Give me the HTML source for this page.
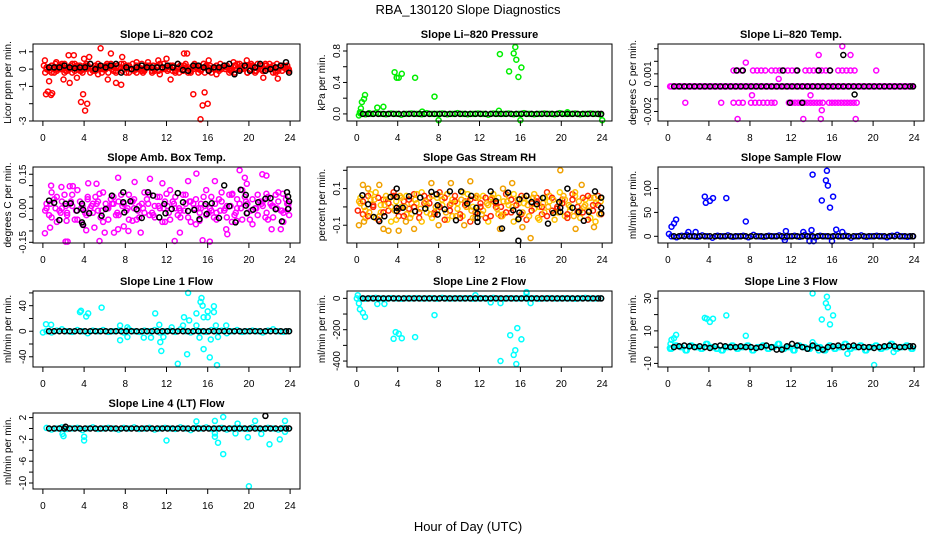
<!DOCTYPE html>
<html><head><meta charset="utf-8">
<style>
html,body{margin:0;padding:0;background:#fff;}
svg{display:block;font-family:"Liberation Sans",Arial,sans-serif;}
</style></head>
<body>
<svg id="chart" width="936" height="540" viewBox="0 0 936 540" xmlns="http://www.w3.org/2000/svg">
<rect x="0" y="0" width="936" height="540" fill="#fff"/>
<text x="468" y="14" text-anchor="middle" font-size="13">RBA_130120  Slope Diagnostics</text>
<text x="468" y="531" text-anchor="middle" font-size="13">Hour of Day (UTC)</text>
</svg>
<script>
const xTicks=[0,4,8,12,16,20,24];
const blackHours=[0.6,1.1,1.6,2.1,2.6,3.1,3.6,4.1,4.6,5.1,5.6,6.1,6.6,7.1,7.6,8.1,8.6,9.1,9.6,10.1,10.6,11.1,11.6,12.1,12.6,13.1,13.6,14.1,14.6,15.1,15.6,16.1,16.6,17.1,17.6,18.1,18.6,19.1,19.6,20.1,20.6,21.1,21.6,22.1,22.6,23.1,23.6,23.9];
const colorHours=[0.35,0.85,1.35,1.85,2.35,2.85,3.35,3.85,4.35,4.85,5.35,5.85,6.35,6.85,7.35,7.85,8.35,8.85,9.35,9.85,10.35,10.85,11.35,11.85,12.35,12.85,13.35,13.85,14.35,14.85,15.35,15.85,16.35,16.85,17.35,17.85,18.35,18.85,19.35,19.85,20.35,20.85,21.35,21.85,22.35,22.85,23.35,23.85];
const hoursC=[0.1,0.6,1.1,1.6,2.1,2.6,3.1,3.6,4.1,4.6,5.1,5.6,6.1,6.6,7.1,7.6,8.1,8.6,9.1,9.6,10.1,10.6,11.1,11.6,12.1,12.6,13.1,13.6,14.1,14.6,15.1,15.6,16.1,16.6,17.1,17.6,18.1,18.6,19.1,19.6,20.1,20.6,21.1,21.6,22.1,22.6,23.1,23.6];
const hoursD=[0.22,0.72,1.22,1.72,2.22,2.72,3.22,3.72,4.22,4.72,5.22,5.72,6.22,6.72,7.22,7.72,8.22,8.72,9.22,9.72,10.22,10.72,11.22,11.72,12.22,12.72,13.22,13.72,14.22,14.72,15.22,15.72,16.22,16.72,17.22,17.72,18.22,18.72,19.22,19.72,20.22,20.72,21.22,21.72,22.22,22.72,23.22,23.72];
const blackZero=[0,0,0,0,0,0,0,0,0,0,0,0,0,0,0,0,0,0,0,0,0,0,0,0,0,0,0,0,0,0,0,0,0,0,0,0,0,0,0,0,0,0,0,0,0,0,0,0];

// CO2
const co2Ticks=[-3,-2,-1,0,1];
const co2TickLabels=["-3","","-1","0","1"];
const co2Black=[0.1,0.1,0.1,0.2,0.1,0.05,0.1,0.1,0.3,0.0,0.2,0.1,0.2,0.3,-0.2,0.1,0.0,0.1,0.2,0.1,0.1,0.1,0.1,0.2,0.1,0.3,-0.05,-0.1,0.2,0.2,0.1,-0.1,0.1,0.1,0.2,0.3,-0.3,-0.1,0.2,-0.1,0.1,0.3,-0.1,0.0,0.1,0.2,0.4,-0.2];
const co2A=[0.0,0.2,-0.1,0.3,0.1,-0.2,0.2,0.0,0.1,-0.1,0.3,0.0,-0.2,0.2,0.1,0.0,0.2,-0.1,0.1,0.0,0.2,-0.1,0.3,0.0,0.1,-0.2,0.2,0.1,-0.1,0.2,0.0,0.1,-0.2,0.2,0.0,0.1,-0.1,0.3,0.0,-0.2,0.2,0.1,-0.1,0.0,0.2,-0.1,0.1,0.0];
const co2B=[-0.1,0.0,0.2,-0.2,0.0,0.3,-0.1,0.2,-0.2,0.2,0.0,0.2,0.1,-0.1,0.3,-0.2,0.0,0.2,-0.1,0.2,-0.2,0.1,0.0,0.2,-0.1,0.1,0.0,-0.2,0.2,0.0,0.3,-0.1,0.1,0.0,0.2,-0.2,0.2,0.0,0.1,0.2,-0.1,0.0,0.2,0.1,-0.2,0.2,0.0,-0.1];
const co2C=[0.1,-0.2,0.0,0.2,-0.1,0.3,0.0,-0.2,0.2,0.1,-0.3,0.0,0.2,-0.1,0.1,0.3,-0.2,0.0,0.1,-0.1,0.2,0.0,-0.3,0.1,0.2,-0.1,0.0,0.3,-0.2,0.1,-0.1,0.2,0.0,-0.3,0.1,0.2,-0.1,0.0,0.2,-0.2,0.1,0.3,-0.1,0.0,-0.2,0.1,0.2,0.0];
const co2D=[0.2,0.1,-0.2,0.0,0.3,0.1,-0.1,0.2,0.0,0.3,-0.1,0.1,0.0,0.3,-0.2,0.1,0.2,0.0,-0.2,0.3,0.1,-0.1,0.2,0.0,-0.1,0.2,0.3,-0.1,0.1,0.0,-0.2,0.3,0.1,0.0,-0.1,0.2,0.0,-0.2,0.3,0.1,0.0,-0.2,0.2,0.3,0.0,-0.1,0.2,0.1];
const co2E=[-0.2,0.1,0.3,0.0,-0.1,0.2,0.1,-0.1,0.3,0.0,0.1,-0.2,0.3,0.0,0.2,-0.1,0.1,0.3,0.0,-0.2,0.1,0.2,-0.1,0.3,0.0,0.1,-0.2,0.2,0.0,0.3,0.1,-0.2,0.2,0.1,0.3,0.0,-0.1,0.2,0.0,0.1,0.3,-0.1,0.0,0.2,0.1,0.3,-0.1,0.2];
const co2OutX=[0.2,0.3,0.5,0.6,0.8,0.9,2.0,2.5,2.6,3.0,3.3,3.7,3.9,4.0,4.1,4.3,4.5,5.6,6.6,6.3,7.1,7.6,7.7,12.0,12.4,13.7,14.0,14.6,15.3,15.5,15.7,16.0,16.1,19.8,21.4,22.8,1.3,9.1,10.2,18.5,11.2,22.0];
const co2OutY=[0.5,-1.45,-1.3,-0.7,-1.5,-1.4,-0.6,0.8,-0.8,0.8,-0.5,-1.9,-1.45,0.6,-2.4,-2.0,0.7,1.2,0.9,-0.6,-0.8,-0.9,0.7,0.6,-0.6,0.9,0.9,-1.45,-2.9,-2.1,-1.35,-2.0,0.5,0.5,-0.5,-0.55,0.4,0.4,0.4,0.4,0.5,0.3];

// Pressure
const presTicks=[0,0.2,0.4,0.6,0.8];
const presTickLabels=["0.0","","0.4","","0.8"];
const presBand=[0.005,-0.005,0,0.01,0,-0.005,0.005,0,-0.01,0,0.005,0,-0.005,0.01,0,0,0.005,-0.005,0,0.01,0,-0.005,0,0.005,0,-0.01,0.005,0,0,0.005,-0.005,0,0.01,0,-0.005,0,0.005,0,-0.005,0.01,0,0,0.005,-0.005,0,0.005,0,-0.01];
const presOutX=[0.2,0.3,0.4,0.5,0.7,0.8,1.2,2.0,2.6,3.7,3.9,4.1,4.4,5.7,6.4,7.6,8.0,13.9,14.0,14.9,15.35,15.5,15.6,15.8,16.1,16.0,20.6,24.0];
const presOutY=[-0.02,0.02,0.07,0.15,0.19,0.24,0.01,0.08,0.09,0.53,0.46,0.46,0.51,0.46,0.03,0.22,-0.08,0.04,0.76,0.54,0.77,0.85,0.69,0.47,0.59,-0.08,0.02,-0.08];

// Li-820 Temp
const tempTicks=[-0.002,-0.001,0,0.001,0.002,0.003];
const tempTickLabels=["-0.002","","","0.001","",""];
const tempOutX=[6.4,6.8,7.2,8.3,8.7,9.1,9.5,10.1,10.5,10.9,11.3,11.7,12.1,12.5,13.4,13.8,14.2,14.6,15.0,15.4,15.8,16.6,17.0,17.4,17.8,18.2,20.3,
1.7,5.2,6.4,6.9,7.3,8.1,8.5,8.9,9.3,9.7,10.1,10.4,11.8,12.1,12.4,12.7,13.0,13.3,13.6,13.9,14.2,14.5,14.8,15.1,15.7,16.0,16.3,16.6,16.9,17.2,17.5,17.8,18.1,18.4,
14.7,17.8,17.0,7.6,10.8,8.2,13.9,15.0,6.8,13.2,14.9,18.3];
const tempOutY=[0.00127,0.00127,0.00127,0.00127,0.00127,0.00127,0.00127,0.00127,0.00127,0.00127,0.00127,0.00127,0.00127,0.00127,0.00127,0.00127,0.00127,0.00127,0.00127,0.00127,0.00127,0.00127,0.00127,0.00127,0.00127,0.00127,0.00127,
-0.0013,-0.0013,-0.0013,-0.0013,-0.0013,-0.0013,-0.0013,-0.0013,-0.0013,-0.0013,-0.0013,-0.0013,-0.0013,-0.0013,-0.0013,-0.0013,-0.0013,-0.0013,-0.0013,-0.0013,-0.0013,-0.0013,-0.0013,-0.0013,-0.0013,-0.0013,-0.0013,-0.0013,-0.0013,-0.0013,-0.0013,-0.0013,-0.0013,-0.0013,
0.0025,0.0025,0.0032,0.0019,0.0006,-0.0007,-0.0007,-0.0019,-0.0026,-0.0026,-0.0026,-0.0026];
const tempBlackX=[6.7,7.3,11.2,12.6,14.7,15.8,11.9,13.1,17.1,18.2];
const tempBlackY=[0.00127,0.00127,0.00127,0.00127,0.00127,0.00127,-0.0013,-0.0013,0.0025,-0.00065];

// Amb box temp
const ambTicks=[-0.15,-0.1,-0.05,0,0.05,0.1,0.15];
const ambTickLabels=["-0.15","","","0.00","","","0.15"];
const ambA=[0.02,-0.04,0.05,0.0,-0.03,0.06,-0.05,0.01,0.04,-0.02,0.03,-0.06,0.0,0.05,-0.03,0.02,-0.05,0.04,0.01,-0.02,0.06,-0.04,0.0,0.03,-0.05,0.05,-0.01,0.02,-0.06,0.04,0.0,-0.03,0.05,-0.02,0.03,-0.04,0.06,0.0,-0.05,0.02,0.04,-0.03,0.01,0.05,-0.04,0.03,-0.02,0.0];
const ambB=[-0.03,0.04,-0.01,0.06,0.02,-0.05,0.03,-0.02,0.0,0.05,-0.04,0.02,0.04,-0.03,0.06,-0.01,0.03,-0.05,0.02,0.04,-0.02,0.05,-0.06,0.01,0.03,-0.03,0.06,-0.04,0.02,0.0,0.05,-0.02,-0.04,0.04,-0.01,0.06,-0.03,0.02,0.05,-0.05,0.0,0.03,-0.04,0.02,0.06,-0.01,0.04,-0.03];
const ambC=[0.0,0.07,-0.06,0.03,-0.02,0.01,0.08,-0.07,0.05,0.02,-0.01,0.07,-0.05,0.02,0.03,-0.08,0.06,0.0,-0.04,0.07,-0.03,0.01,0.05,-0.06,0.08,0.0,-0.04,0.06,0.03,-0.07,0.02,0.08,-0.01,-0.05,0.07,0.01,-0.06,0.04,0.08,-0.02,-0.07,0.06,0.03,-0.05,0.01,0.07,-0.06,0.02];
const ambD=[-0.01,0.02,0.0,-0.02,0.01,0.03,-0.01,0.0,-0.03,0.01,0.02,-0.01,0.0,0.02,-0.02,0.01,0.0,0.03,-0.01,0.0,0.02,-0.03,0.01,0.0,-0.02,0.02,0.0,-0.01,0.03,0.0,-0.02,0.01,0.0,0.02,-0.01,0.0,0.01,-0.02,0.0,0.03,-0.01,0.0,0.02,-0.02,0.01,0.0,-0.01,0.02];
const ambOutX=[0.2,0.7,0.8,1.8,2.2,2.4,2.6,2.9,4.4,4.2,5.2,5.0,5.5,6.0,6.9,7.3,7.3,8.3,8.9,9.5,10.4,11.6,12.8,13.3,14.1,14.9,15.5,16.2,16.7,17.8,17.9,19.1,19.6,21.3,21.7,22.2,23.1,19.8,18.8,15.2,8.7,2.3,12.0,18.4,5.5,21.7,23.3];
const ambOutY=[-0.11,-0.085,0.10,0.094,-0.147,-0.147,0.097,0.098,0.11,-0.097,0.108,-0.085,-0.144,-0.107,-0.107,0.135,-0.092,-0.1,0.116,-0.107,0.13,0.11,-0.144,-0.107,0.12,0.153,-0.141,-0.147,0.12,-0.092,-0.114,0.168,0.135,0.15,0.144,-0.092,-0.092,0.108,-0.055,-0.055,-0.055,-0.055,0.064,0.064,0.064,0.064,0.064];
const ambBlackX=[0.6,1.1,1.6,2.2,2.7,3.3,3.8,3.8,3.9,3.9,4.5,5.7,6.1,6.7,7.8,7.8,7.9,8.5,9.1,9.6,10.2,10.7,11.3,11.8,11.9,12.5,13.1,13.6,14.1,14.7,15.2,15.8,15.9,16.4,17.1,17.6,18.1,18.7,19.2,19.7,19.7,19.8,20.4,20.9,21.6,22.1,22.6,23.2,23.7,23.8,23.9,23.8];
const ambBlackY=[0.034,0.024,-0.052,0.02,0.022,-0.01,0.02,-0.062,-0.073,-0.006,-0.022,-0.033,-0.003,0.056,0.027,0.071,-0.018,0.031,-0.004,-0.043,0.071,0.056,-0.04,0.019,-0.022,-0.003,0.067,0.027,-0.012,-0.007,-0.048,0.019,-0.025,0.022,-0.043,0.101,0.009,-0.062,0.082,0.059,0.012,-0.022,-0.006,0.027,0.042,0.045,-0.004,-0.058,0.071,0.052,0.031,-0.003];

// Gas stream RH
const rhTicks=[-0.1,0,0.1,0.2];
const rhTickLabels=["-0.1","","0.1",""];
const rhA=[0.05,-0.02,0.07,-0.06,0.01,0.04,-0.08,0.03,0.0,0.06,-0.04,0.02,0.08,-0.03,-0.06,0.05,0.01,-0.07,0.04,0.02,-0.05,0.07,0.0,-0.02,0.06,-0.08,0.03,0.05,-0.04,0.01,0.07,-0.06,0.02,0.04,-0.01,-0.07,0.05,0.03,-0.03,0.08,-0.05,0.0,0.06,-0.02,0.04,-0.06,0.02,0.05];
const rhB=[-0.04,0.06,0.01,-0.07,0.04,-0.02,0.08,-0.05,0.03,-0.01,0.07,-0.06,0.02,0.05,-0.03,0.08,-0.07,0.01,0.06,-0.04,0.03,-0.08,0.05,0.02,-0.06,0.04,0.0,-0.05,0.07,-0.03,0.01,0.06,-0.07,0.02,0.05,-0.04,0.08,-0.02,0.0,0.04,-0.06,0.07,-0.03,0.05,-0.07,0.01,0.06,-0.04];
const rhC=[0.02,-0.06,0.04,0.08,-0.03,0.06,0.0,-0.07,0.05,-0.04,0.02,0.07,-0.08,0.01,0.06,-0.02,0.04,0.07,-0.05,-0.01,0.08,0.03,-0.06,0.05,-0.02,0.01,0.07,-0.04,0.03,0.06,-0.08,0.02,0.05,-0.05,0.07,0.0,-0.03,0.06,-0.07,0.02,0.04,-0.02,0.08,-0.06,0.01,0.05,-0.08,0.03];
const rhD=[-0.02,0.03,-0.05,0.0,0.05,-0.03,0.02,0.06,-0.01,-0.05,0.04,0.0,-0.03,0.06,0.02,-0.04,0.0,0.05,-0.02,0.03,-0.06,0.01,0.04,-0.03,0.0,0.05,-0.05,0.02,0.0,-0.03,0.04,0.01,-0.04,0.06,-0.02,0.03,0.0,-0.05,0.05,-0.01,0.02,-0.04,0.04,0.0,-0.03,0.06,-0.02,0.01];
const rhE=[0.03,0.0,-0.03,0.04,-0.05,0.01,0.05,-0.02,0.06,0.0,-0.06,0.04,-0.01,0.03,-0.04,0.0,0.06,-0.03,0.02,-0.05,0.04,0.0,-0.02,0.06,-0.04,0.02,0.05,-0.01,-0.05,0.03,0.0,0.04,-0.03,0.01,0.05,-0.06,0.02,0.0,0.04,-0.03,0.06,0.01,-0.05,0.03,0.0,-0.02,0.05,-0.04];
const rhOutX=[0.2,0.7,1.1,2.2,2.6,3.1,4.1,4.8,5.6,7.3,9.2,11.1,11.6,14.0,15.2,16.2,17.0,19.9,21.4,23.2,0.6,14.3,10.5,8.0,22.0];
const rhOutY=[-0.1,-0.08,0.1,0.12,-0.12,-0.13,-0.13,-0.08,-0.12,0.13,0.13,0.14,-0.06,-0.12,0.13,-0.11,-0.17,0.2,-0.12,-0.11,0.12,0.1,-0.1,-0.1,0.12];
const rhBlackX=[0.55,1.1,1.65,2.2,2.7,3.3,3.9,3.9,3.9,3.9,4.5,5.1,5.7,6.2,6.7,7.3,7.8,7.9,7.9,8.6,9.1,9.7,10.2,10.8,11.2,11.7,11.8,11.8,11.8,13.1,13.6,14.2,14.8,15.3,15.9,15.9,15.8,15.8,16.6,17.1,17.6,18.2,18.7,19.2,19.8,19.9,19.9,20.6,21.1,21.7,22.2,22.7,23.3,23.9,23.9,23.9];
const rhBlackY=[0.064,0.015,-0.055,-0.078,-0.051,0.055,0.1,0.055,-0.005,-0.022,-0.005,0.058,-0.024,0.051,-0.009,0.082,0.069,0.009,-0.042,-0.013,0.085,-0.073,0.085,0.018,0.06,-0.005,-0.036,-0.06,-0.082,0.085,0.031,-0.118,0.078,-0.018,0.042,-0.031,-0.067,-0.185,0.06,0.027,0.015,0.049,-0.091,-0.033,0.027,-0.005,-0.027,0.1,-0.005,-0.027,-0.076,-0.027,0.085,0.051,-0.005,-0.036];

// Sample flow
const sampTicks=[0,50,100];
const sampTickLabels=["0","50","100"];
const flowBand=[0,-2,1,3,0,-1,2,0,-3,1,0,2,-1,0,1,-2,3,0,-1,1,0,2,-2,0,1,-1,3,0,-2,1,0,-1,2,0,1,-3,0,2,-1,0,1,0,-2,1,3,0,-1,0];
const sampOutX=[0.1,0.36,0.6,0.8,3.6,3.7,4.1,4.4,5.7,7.6,2.0,2.7,11.5,11.4,13.2,14.0,14.1,13.8,14.2,15.0,15.4,15.5,15.6,15.8,16.1,16.0,16.4,17.0];
const sampOutY=[5,20,27,35,83,70,74,80,80,31,9,9,11,-8,9,13,129,-10,-10,75,117,137,106,60,83,-10,14,9];

// Line 1
const l1Ticks=[-40,-20,0,20,40,60];
const l1TickLabels=["-40","","0","","40",""];
const l1OutX=[3.6,3.7,4.2,4.4,5.7,7.5,8.2,9.8,10.5,10.9,11.4,11.5,11.7,13.1,13.7,14.0,14.1,14.2,14.9,15.2,15.3,15.4,15.5,15.6,15.6,16.0,16.0,16.2,16.3,16.6,16.6,16.9,17.0,7.5,8.2,11.3,12.5,13.6,14.9,16.8,17.8,0.0,0.3,0.8];
const l1OutY=[30,32,23,28,37,-14,-9,-10,-10,28,-17,-31,-9,-51,22,-36,60,17,28,-10,46,52,40,22,-28,22,31,-41,-13,30,39,-53,-9,9,6,10,6,9,9,9,9,-2,11,10];

// Line 2
const l2Ticks=[-400,-300,-200,-100,0];
const l2TickLabels=["-400","","-200","","0"];
const l2OutX=[0.0,0.1,0.2,0.3,0.6,0.8,2.0,2.7,3.6,3.8,4.1,4.4,5.7,7.6,15.0,15.35,15.5,15.6,15.7,16.1,14.05,14.05,13.1,16.6,17.0,11.6,16.6];
const l2OutY=[0,20,-32,-70,-92,-118,-36,-36,-258,-215,-226,-254,-247,-107,-235,-361,-331,-419,-190,-261,-400,-30,-26,32,-30,20,40];

// Line 3
const l3Ticks=[-10,0,10,20,30];
const l3TickLabels=["-10","","10","","30"];
const l3Band=[-1,1,0,-2,1,0,-1,2,0,-1,-2,0,1,-1,0,1,-2,0,1,-1,0,2,-1,0,-2,1,0,-1,1,0,-2,1,-1,0,2,-1,0,1,-2,0,1,-1,0,2,-1,0,1,-1];
const l3Black=[0,0.5,1,0.5,0,0.5,0,-0.5,0.5,1,0.5,0,0,0.5,0,0,-0.5,0,1,0,-1.5,-1.5,0.5,2,1,0,-1,1,-0.5,-1.5,0,0.5,1,0,0.5,1,0,0,0,-0.5,0,0.5,1,0.5,0,0,0.5,0.5];
const l3OutX=[0.2,0.26,0.36,0.6,0.8,3.6,3.8,4.1,4.4,5.7,7.6,14.1,15.0,15.4,15.5,15.6,15.8,16.1,20.1,17.5,14.1,14.7,22.0];
const l3OutY=[-0.5,2,4.5,5.5,7.5,18,17.5,15.5,17.5,19.5,7,33,17,27,31,24.5,14,19.5,-11,-4,3,-2,-3];

// Line 4
const l4Ticks=[-10,-8,-6,-4,-2,0,2];
const l4TickLabels=["-10","","-6","","-2","","2"];
const l4Band=[0.1,-0.2,0,0.2,-0.1,0,0.1,-0.3,0,0.2,-0.1,0,0.1,0,-0.2,0.1,0,0.2,-0.1,0,0.1,-0.2,0,0.1,0,-0.1,0.2,0,-0.3,0.1,0,0.2,-0.1,0,0.1,-0.2,0,0.1,0,-0.1,0.2,0,-0.1,0.1,0,-0.2,0.1,0];
const l4OutX=[1.9,2.0,4.0,4.0,12.0,14.9,16.7,16.7,16.7,17.0,17.5,17.5,18.7,18.9,19.9,20.0,20.6,21.2,22.0,23.0,23.5,23.5];
const l4OutY=[-1.0,-1.4,-1.5,-2.2,-2.2,1.3,1.4,-0.9,-1.5,-2.6,2.1,-4.7,-0.9,0.9,-1.6,-10.6,1.4,-1.0,-2.9,-2.0,1.4,-0.6];
const l4BlackX=[21.6,2.2];
const l4BlackY=[2.3,0.3];

const svg=document.getElementById('chart');
const NS='http://www.w3.org/2000/svg';
function mk(tag,attrs,parent){const e=document.createElementNS(NS,tag);for(const k in attrs)e.setAttribute(k,attrs[k]);(parent||svg).appendChild(e);return e;}

function panel(cfg){
  const g=mk('g',{});
  
  
  const [L,R,T,B]=cfg.box;
  const sx=v=>L+(v-(-0.96))/(24.96-(-0.96))*(R-L);
  const sy=v=>B-(v-cfg.ylim[0])/(cfg.ylim[1]-cfg.ylim[0])*(B-T);
  const t=mk('text',{x:(L+R)/2,y:T-6,'text-anchor':'middle','font-size':11,'font-weight':'bold'},g);
  t.textContent=cfg.title;
  
  
  const yl=mk('text',{transform:`translate(${L-22},${(T+B)/2}) rotate(-90)`,'text-anchor':'middle','font-size':10},g);
  yl.textContent=cfg.ylab;
  
  
  cfg.series.forEach(s=>{
    for(let i=0;i<s.xs.length;i++){
      const c=mk('circle',{cx:sx(s.xs[i]).toFixed(1),cy:sy(s.ys[i]).toFixed(1),r:2.5,fill:'none',stroke:s.color,'stroke-width':1.5},g);
      
      
    }
  });
  const box=mk('rect',{x:L,y:T,width:R-L,height:B-T,fill:'none',stroke:'#000','stroke-width':1},g);
  
  
  mk('line',{x1:sx(xTicks[0]),x2:sx(xTicks[xTicks.length-1]),y1:B,y2:B,stroke:'#000'},g);
  xTicks.forEach(v=>{
    mk('line',{x1:sx(v),x2:sx(v),y1:B,y2:B+5,stroke:'#000'},g);
    const tl=mk('text',{x:sx(v),y:B+20,'text-anchor':'middle','font-size':10},g);
    tl.textContent=String(v);
    
    
  });
  cfg.yticks.forEach((v,i)=>{
    mk('line',{x1:L-4,x2:L,y1:sy(v),y2:sy(v),stroke:'#000'},g);
    if(cfg.ylabels[i]){
      const tl=mk('text',{transform:`translate(${L-7},${sy(v)}) rotate(-90)`,'text-anchor':'middle','font-size':10},g);
      tl.textContent=cfg.ylabels[i];
      
      
    }
  });
}
const C1=[33,300],C2=[347,612],C3=[658,924];
const R1=[44,121],R2=[167,243],R3=[291,367],R4=[413,489];
const cyan='#00ffff';
const red='#ff0000';
panel({name:'co2',title:'Slope Li\u2013820 CO2',ylab:'Licor ppm per min.',box:[...C1,...R1],ylim:[-3,1.45],yticks:co2Ticks,ylabels:co2TickLabels,
 series:[{xs:colorHours,ys:co2A,color:red},{xs:blackHours,ys:co2B,color:red},{xs:colorHours,ys:co2C,color:red},{xs:hoursC,ys:co2D,color:red},{xs:hoursD,ys:co2E,color:red},{xs:co2OutX,ys:co2OutY,color:red},{xs:blackHours,ys:co2Black,color:'#000'}]});
panel({name:'pressure',title:'Slope Li\u2013820 Pressure',ylab:'kPa per min.',box:[...C2,...R1],ylim:[-0.09,0.889],yticks:presTicks,ylabels:presTickLabels,
 series:[{xs:colorHours,ys:presBand,color:'#00ee00'},{xs:presOutX,ys:presOutY,color:'#00ee00'},{xs:blackHours,ys:blackZero,color:'#000'}]});
panel({name:'li820-temp',title:'Slope Li\u2013820 Temp.',ylab:'degrees C per min.',box:[...C3,...R1],ylim:[-0.00276,0.00338],yticks:tempTicks,ylabels:tempTickLabels,
 series:[{xs:colorHours,ys:blackZero,color:'#ff00ff'},{xs:hoursD,ys:blackZero,color:'#ff00ff'},{xs:tempOutX,ys:tempOutY,color:'#ff00ff'},{xs:blackHours,ys:blackZero,color:'#000'},{xs:tempBlackX,ys:tempBlackY,color:'#000'}]});
panel({name:'amb-box-temp',title:'Slope Amb. Box Temp.',ylab:'degrees C per min.',box:[...C1,...R2],ylim:[-0.153,0.182],yticks:ambTicks,ylabels:ambTickLabels,
 series:[{xs:colorHours,ys:ambA,color:'#ff00ff'},{xs:blackHours,ys:ambB,color:'#ff00ff'},{xs:colorHours,ys:ambC,color:'#ff00ff'},{xs:hoursD,ys:ambD,color:'#ff00ff'},{xs:ambOutX,ys:ambOutY,color:'#ff00ff'},{xs:ambBlackX,ys:ambBlackY,color:'#000'}]});
panel({name:'gas-stream-rh',title:'Slope Gas Stream RH',ylab:'percent per min.',box:[...C2,...R2],ylim:[-0.197,0.218],yticks:rhTicks,ylabels:rhTickLabels,
 series:[{xs:colorHours,ys:rhA,color:'#ffd000'},{xs:blackHours,ys:rhB,color:'#ff3000'},{xs:colorHours,ys:rhC,color:'#ffc000'},{xs:hoursC,ys:rhD,color:'#ff2000'},{xs:hoursD,ys:rhE,color:'#ffb000'},{xs:rhOutX,ys:rhOutY,color:'#f0a000'},{xs:rhBlackX,ys:rhBlackY,color:'#000'}]});
panel({name:'sample-flow',title:'Slope Sample Flow',ylab:'ml/min per min.',box:[...C3,...R2],ylim:[-14,145],yticks:sampTicks,ylabels:sampTickLabels,
 series:[{xs:colorHours,ys:flowBand,color:'#0000ff'},{xs:sampOutX,ys:sampOutY,color:'#0000ff'},{xs:blackHours,ys:blackZero,color:'#000'}]});
panel({name:'line1-flow',title:'Slope Line 1 Flow',ylab:'ml/min per min.',box:[...C1,...R3],ylim:[-56,63],yticks:l1Ticks,ylabels:l1TickLabels,
 series:[{xs:colorHours,ys:flowBand,color:cyan},{xs:l1OutX,ys:l1OutY,color:cyan},{xs:blackHours,ys:blackZero,color:'#000'}]});
panel({name:'line2-flow',title:'Slope Line 2 Flow',ylab:'ml/min per min.',box:[...C2,...R3],ylim:[-438,47],yticks:l2Ticks,ylabels:l2TickLabels,
 series:[{xs:colorHours,ys:flowBand,color:cyan},{xs:l2OutX,ys:l2OutY,color:cyan},{xs:blackHours,ys:blackZero,color:'#000'}]});
panel({name:'line3-flow',title:'Slope Line 3 Flow',ylab:'ml/min per min.',box:[...C3,...R3],ylim:[-12.2,34.5],yticks:l3Ticks,ylabels:l3TickLabels,
 series:[{xs:colorHours,ys:l3Band,color:cyan},{xs:hoursD,ys:l3Band,color:cyan},{xs:l3OutX,ys:l3OutY,color:cyan},{xs:blackHours,ys:l3Black,color:'#000'}]});
panel({name:'line4-flow',title:'Slope Line 4 (LT) Flow',ylab:'ml/min per min.',box:[...C1,...R4],ylim:[-11.1,2.84],yticks:l4Ticks,ylabels:l4TickLabels,
 series:[{xs:colorHours,ys:l4Band,color:cyan},{xs:l4OutX,ys:l4OutY,color:cyan},{xs:blackHours,ys:blackZero,color:'#000'},{xs:l4BlackX,ys:l4BlackY,color:'#000'}]});
</script>
</body></html>
